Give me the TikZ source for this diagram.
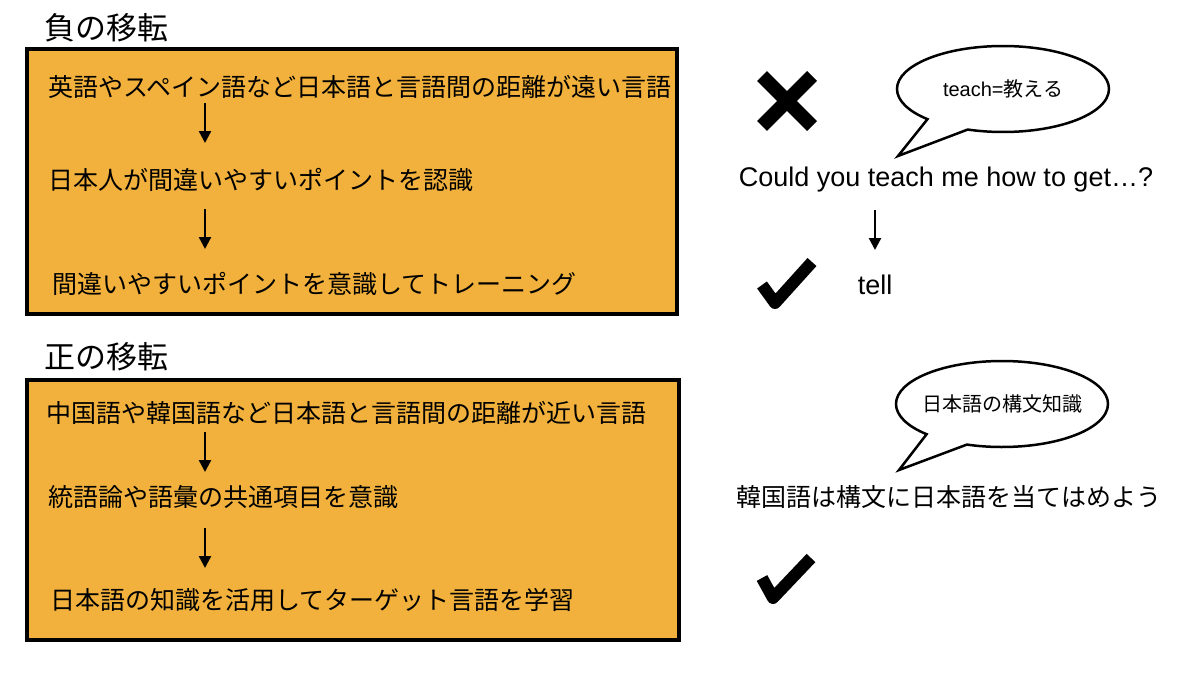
\documentclass[tikz,border=0pt]{standalone}
\usepackage{fontspec}
\setmainfont{Noto Sans CJK JP}
\newfontfamily\latinfont{Liberation Sans}
\usetikzlibrary{arrows.meta,shapes.callouts}
\definecolor{boxorange}{RGB}{241,177,60}
\begin{document}
\begin{tikzpicture}[x=1pt,y=-1pt,
  box/.style={draw=black,line width=4.5pt,fill=boxorange},
  title/.style={anchor=west,inner sep=0pt,font=\fontsize{31}{36}\selectfont},
  line/.style={anchor=west,inner sep=0pt,font=\fontsize{25}{29}\selectfont},
  side/.style={inner sep=0pt,font=\fontsize{25}{29}\selectfont},
  arr/.style={line width=2.3pt,-{Triangle[width=12pt,length=12pt]}},
  bubble/.style={ellipse callout,draw=black,line width=2.5pt,fill=white,
    inner xsep=-6pt,minimum width=212pt,minimum height=86pt,callout pointer arc=26,
    font=\fontsize{20}{24}\selectfont},
  tick/.style={line width=12pt,line join=round}]
  \useasboundingbox (0,0) rectangle (1200,675);
  \fill[white] (0,0) rectangle (1200,675);
  % negative transfer
  \node[title] (title1) at (44,28) {負の移転};
  \draw[box] (27,49) rectangle (677,314);
  \node[line] (t11) at (48,87) {英語やスペイン語など日本語と言語間の距離が遠い言語};
  \node[line] (t12) at (48,180) {日本人が間違いやすいポイントを認識};
  \node[line] (t13) at (52,284) {間違いやすいポイントを意識してトレーニング};
  \coordinate (a11) at (205,103);
  \coordinate (a11e) at (205,143);
  \coordinate (a12) at (205,209);
  \coordinate (a12e) at (205,249);
  \draw[arr] (a11) -- (a11e);
  \draw[arr] (a12) -- (a12e);
  % positive transfer
  \node[title] (title2) at (44,357) {正の移転};
  \draw[box] (27,380) rectangle (679,640);
  \node[line] (t21) at (46,413) {中国語や韓国語など日本語と言語間の距離が近い言語};
  \node[line] (t22) at (48,497) {統語論や語彙の共通項目を意識};
  \node[line] (t23) at (50,600) {日本語の知識を活用してターゲット言語を学習};
  \coordinate (a21) at (205,432);
  \coordinate (a21e) at (205,472);
  \coordinate (a22) at (205,528);
  \coordinate (a22e) at (205,568);
  \draw[arr] (a21) -- (a21e);
  \draw[arr] (a22) -- (a22e);
  % right side, top
  \draw[line width=14pt] (762,76) -- (812,126) (762,126) -- (812,76);
  \node[bubble,callout absolute pointer={(898,156)}] (say1) at (1003,89) {{\latinfont teach=}教える};
  \node[side,font=\latinfont\fontsize{27}{31}\selectfont] (s1) at (946,180) {Could you teach me how to get…?};
  \node[side,font=\latinfont\fontsize{27}{31}\selectfont] (s2) at (875,285) {tell};
  \coordinate (b1) at (875,210);
  \coordinate (b1e) at (875,250);
  \draw[arr] (b1) -- (b1e);
  \draw[tick] (762,285) -- (775,303) -- (812,262);
  % right side, bottom
  \node[bubble,callout absolute pointer={(899,470)}] (say2) at (1002,404) {日本語の構文知識};
  \node[side] (s3) at (949,497) {韓国語は構文に日本語を当てはめよう};
  \draw[tick] (762,578) -- (773,598) -- (811,558);
\end{tikzpicture}
\end{document}
